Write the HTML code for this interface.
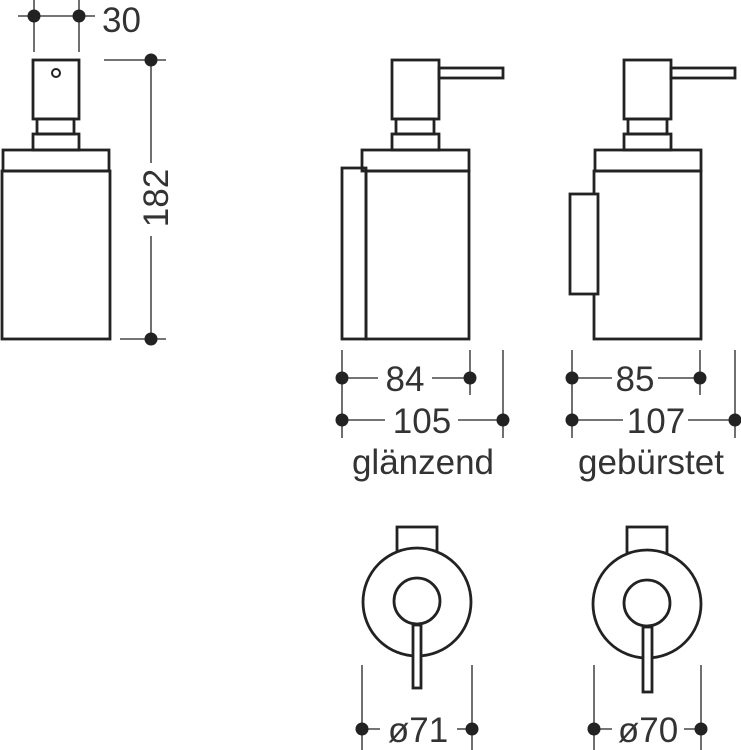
<!DOCTYPE html>
<html><head><style>html,body{margin:0;padding:0;background:#fff}svg{display:block}</style></head>
<body>
<svg width="741" height="750" viewBox="0 0 741 750" xmlns="http://www.w3.org/2000/svg" font-family="Liberation Sans, sans-serif" fill="none" stroke="#222">
<g stroke-width="2.8">
<rect x="33" y="60" width="46" height="59"/>
<circle cx="56" cy="73" r="4" stroke-width="2"/>
<rect x="37" y="119" width="37" height="15"/>
<rect x="33" y="134" width="46" height="16"/>
<rect x="3" y="150" width="106" height="21"/>
<rect x="2" y="171" width="108" height="168"/>
<rect x="392" y="60" width="47" height="59"/>
<rect x="439" y="68" width="64" height="10"/>
<rect x="396" y="119" width="38" height="15"/>
<rect x="392" y="134" width="47" height="16"/>
<rect x="362" y="150" width="107" height="21"/>
<rect x="366" y="171" width="103" height="168"/>
<rect x="342" y="168" width="24" height="171"/>
<rect x="624" y="60" width="47" height="59"/>
<rect x="671" y="68" width="64" height="10"/>
<rect x="628" y="119" width="39" height="15"/>
<rect x="624" y="134" width="47" height="16"/>
<rect x="595" y="150" width="106" height="21"/>
<rect x="594" y="171" width="107" height="168"/>
<rect x="570" y="194" width="28" height="100" fill="#fff"/>
<rect x="397" y="527" width="40" height="24"/>
<circle cx="417" cy="602" r="54" fill="#fff"/>
<circle cx="417" cy="601" r="23"/>
<rect x="413" y="625" width="8" height="63" fill="#fff"/>
<rect x="627" y="527" width="40" height="26"/>
<circle cx="647" cy="604" r="54" fill="#fff"/>
<circle cx="647" cy="603" r="23"/>
<rect x="643" y="627" width="9" height="65" fill="#fff"/>
</g>
<g stroke-width="1.3">
<line x1="34" y1="0" x2="34" y2="52"/><line x1="79" y1="0" x2="79" y2="52"/>
<line x1="18" y1="16" x2="95" y2="16"/>
<line x1="104" y1="60" x2="166" y2="60"/><line x1="120" y1="339" x2="166" y2="339"/>
<line x1="151" y1="60" x2="151" y2="163"/><line x1="151" y1="236" x2="151" y2="339"/>
<line x1="342" y1="350" x2="342" y2="438"/><line x1="470" y1="350" x2="470" y2="395"/><line x1="503" y1="350" x2="503" y2="438"/>
<line x1="342" y1="378" x2="378" y2="378"/><line x1="432" y1="378" x2="470" y2="378"/>
<line x1="342" y1="420" x2="385" y2="420"/><line x1="458" y1="420" x2="503" y2="420"/>
<line x1="572" y1="350" x2="572" y2="438"/><line x1="700" y1="350" x2="700" y2="395"/><line x1="735" y1="350" x2="735" y2="438"/>
<line x1="572" y1="378" x2="612" y2="378"/><line x1="658" y1="378" x2="700" y2="378"/>
<line x1="572" y1="420" x2="623" y2="420"/><line x1="688" y1="420" x2="735" y2="420"/>
<line x1="362" y1="665" x2="362" y2="750"/><line x1="472" y1="665" x2="472" y2="750"/>
<line x1="362" y1="729" x2="380" y2="729"/><line x1="457" y1="729" x2="472" y2="729"/>
<line x1="594" y1="665" x2="594" y2="750"/><line x1="701" y1="665" x2="701" y2="750"/>
<line x1="594" y1="729" x2="612" y2="729"/><line x1="684" y1="729" x2="701" y2="729"/>
</g>
<g fill="#222" stroke="none">
<circle cx="34" cy="16" r="6.5"/><circle cx="79" cy="16" r="6.5"/>
<circle cx="151" cy="60" r="6.5"/><circle cx="151" cy="339" r="6.5"/>
<circle cx="342" cy="378" r="6.5"/><circle cx="470" cy="378" r="6.5"/>
<circle cx="342" cy="420" r="6.5"/><circle cx="503" cy="420" r="6.5"/>
<circle cx="572" cy="378" r="6.5"/><circle cx="700" cy="378" r="6.5"/>
<circle cx="572" cy="420" r="6.5"/><circle cx="735" cy="420" r="6.5"/>
<circle cx="362" cy="729" r="6.5"/><circle cx="472" cy="729" r="6.5"/>
<circle cx="594" cy="729" r="6.5"/><circle cx="701" cy="729" r="6.5"/>
</g>
<g fill="#333" stroke="none" font-size="35">
<text x="102" y="32">30</text>
<text transform="translate(168,198) rotate(-90)" text-anchor="middle">182</text>
<text x="405" y="391" text-anchor="middle">84</text>
<text x="422" y="433" text-anchor="middle">105</text>
<text x="423" y="474" text-anchor="middle">glänzend</text>
<text x="635" y="391" text-anchor="middle">85</text>
<text x="656" y="433" text-anchor="middle">107</text>
<text x="651" y="474" text-anchor="middle">gebürstet</text>
<text x="418" y="742" text-anchor="middle">ø71</text>
<text x="648" y="742" text-anchor="middle">ø70</text>
</g>
</svg>
</body></html>
